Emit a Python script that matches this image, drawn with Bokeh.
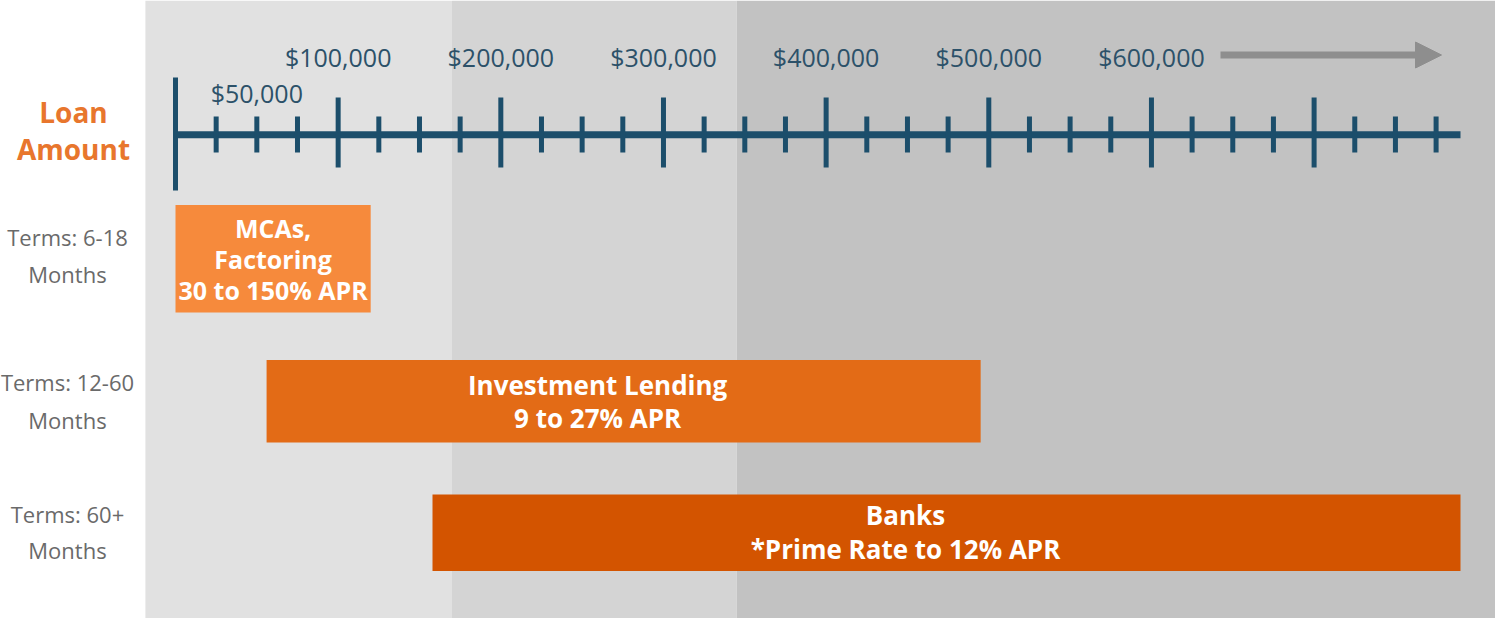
from bokeh.plotting import figure
from bokeh.models import Range1d, Arrow, NormalHead
from bokeh.core.properties import value
from bokeh.embed import file_html
from bokeh.resources import INLINE

# ---------------- data ----------------
axis_max = 790000                      # end of the loan-amount axis ($)
minor_ticks = [25000, 50000, 75000, 125000, 150000, 175000, 225000, 250000, 275000,
               325000, 350000, 375000, 425000, 450000, 475000, 525000, 550000, 575000,
               625000, 650000, 675000, 725000, 750000, 775000]
major_ticks = [100000, 200000, 300000, 400000, 500000, 600000, 700000]
label_values = [50000, 100000, 200000, 300000, 400000, 500000, 600000]
label_texts = ["$50,000", "$100,000", "$200,000", "$300,000", "$400,000", "$500,000", "$600,000"]

products = ["MCAs, Factoring", "Investment Lending", "Banks"]
bar_lines = [["MCAs,", "Factoring", "30 to 150% APR"],
             ["Investment Lending", "9 to 27% APR"],
             ["Banks", "*Prime Rate to 12% APR"]]
loan_min = [0, 56000, 158000]
loan_max = [120000, 495000, 790000]
terms_lines = [["Terms: 6-18", "Months"], ["Terms: 12-60", "Months"], ["Terms: 60+", "Months"]]
tier_edges = [-18500, 170000, 345000, 812000]   # shaded size tiers ($)

# ---------------- layout / style ----------------
W, H = 1495, 618
PX0, PX_END = 183, 1468               # page px of $0 and of axis_max
s = (PX_END - PX0) / axis_max         # px per dollar
X0 = (8 - PX0) / s
X1 = (8 + W - PX0) / s
def px_x(px):
    return (px - PX0) / s

SHIFT = 0.4                            # baseline correction (em)
def base(ys, size):
    return [y - SHIFT * size for y in ys]

AXIS_C = "#1c4e6b"
tier_colors = ["#e1e1e1", "#d4d4d4", "#c2c2c2"]
bar_colors = ["#f68a3c", "#e36b16", "#d35400"]
bar_top = [212.5, 367.5, 502]
bar_bottom = [320, 450, 578.5]
bar_text_offset = [0, -26, -41]
bar_font = [25, 26, 26]
bar_line_base = [[245, 276.5, 307], [402.5, 436], [533, 567]]
terms_base = [[253, 290], [398.5, 436], [530, 566.5]]

FONT = value("Open Sans")

p = figure(width=W, height=H, x_range=Range1d(X0, X1), y_range=Range1d(8 + H, 8),
           output_backend="svg", toolbar_location=None,
           x_axis_location=None, y_axis_location=None, min_border=0,
           outline_line_color=None, background_fill_color="white",
           border_fill_color="white")
p.xgrid.visible = False
p.ygrid.visible = False

# shaded tiers
p.quad(left=tier_edges[:-1], right=tier_edges[1:], top=8, bottom=8 + H,
       fill_color=tier_colors, line_color=None)

# axis line and ticks
p.segment(x0=[0], y0=[142.3], x1=[axis_max], y1=[142.3], line_width=7, line_color=AXIS_C)
p.segment(x0=[0], y0=[85], x1=[0], y1=[198], line_width=5, line_color=AXIS_C)
p.segment(x0=major_ticks, y0=105, x1=major_ticks, y1=175, line_width=5, line_color=AXIS_C)
p.segment(x0=minor_ticks, y0=124, x1=minor_ticks, y1=160, line_width=5, line_color=AXIS_C)

# tick labels
label_base = [110.5 if v == 50000 else 74 for v in label_values]
p.text(x=label_values, y=base(label_base, 25), text=label_texts, text_font=FONT,
       text_font_size="25px", text_align="center", text_baseline="alphabetic",
       text_color="#2c5169")

# arrow
p.add_layout(Arrow(end=NormalHead(size=26, fill_color="#8e8e8e", line_color="#8e8e8e"),
                   x_start=px_x(1228), y_start=62.5, x_end=px_x(1449), y_end=62.5,
                   line_width=7, line_color="#8e8e8e"))

# "Loan Amount"
p.text(x=[px_x(81), px_x(81)], y=base([130.7, 167.3], 28), text=["Loan", "Amount"],
       text_font=FONT, text_font_size="28px", text_font_style="bold", text_align="center",
       text_baseline="alphabetic", text_color="#e8762d")

# bars
p.quad(left=loan_min, right=loan_max, top=bar_top, bottom=bar_bottom,
       fill_color=bar_colors, line_color=None)

for i in range(len(products)):
    cx = (loan_min[i] + loan_max[i]) / 2
    n = len(bar_lines[i])
    p.text(x=[cx] * n, y=base(bar_line_base[i], bar_font[i]), text=bar_lines[i],
           x_offset=bar_text_offset[i], text_font=FONT,
           text_font_size=f"{bar_font[i]}px", text_font_style="bold",
           text_align="center", text_baseline="alphabetic", text_color="white")
    p.text(x=[px_x(75)] * 2, y=base(terms_base[i], 22), text=terms_lines[i], text_font=FONT,
           text_font_size="22px", text_align="center", text_baseline="alphabetic",
           text_color="#6a6a6a")

open("out.html", "w").write(file_html(p, INLINE))
